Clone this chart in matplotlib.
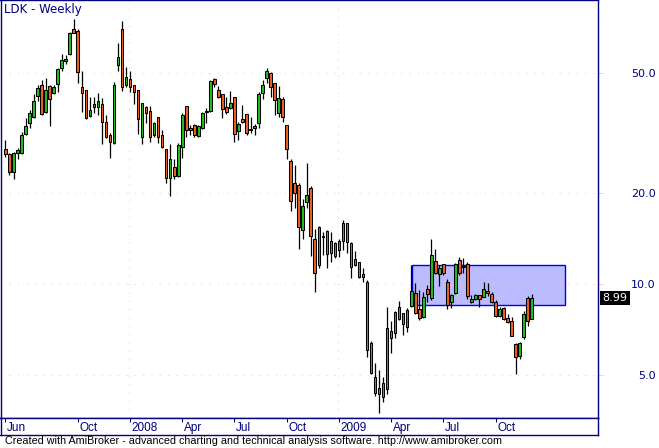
import matplotlib
matplotlib.use('Agg')
import matplotlib.pyplot as plt
import matplotlib.transforms as mtransforms
from matplotlib.patches import Rectangle
from matplotlib.ticker import NullLocator
import pandas as pd

# LDK weekly candles (weeks ending Friday)
opens = [28.0, 27.0, 23.5, 27.2, 27.2, 31.4, 34.2, 35.7, 42.0, 45.6, 37.1, 45.3,
         42.9, 46.0, 51.9, 54.8, 57.8, 70.4, 69.3, 44.9, 43.9, 36.0, 38.6, 38.6,
         39.5, 34.4, 31.2, 29.3, 53.2, 70.4, 45.6, 47.8, 45.6, 43.9, 30.7, 38.6,
         37.4, 31.2, 35.7, 31.2, 28.0, 22.5, 24.4, 22.8, 28.5, 38.9, 32.4, 33.6,
         31.0, 32.9, 37.1, 37.4, 47.8, 44.2, 42.6, 38.6, 38.3, 41.7, 32.2, 35.2,
         36.6, 32.6, 32.9, 34.2, 42.9, 48.1, 50.3, 46.3, 36.9, 41.0, 33.6, 25.7,
         21.6, 21.3, 15.1, 18.7, 20.8, 14.1, 11.55, 14.5, 15.0, 12.7, 13.7, 13.0,
         13.9, 15.9, 13.7, 11.55, 11.8, 10.8, 10.2, 6.39, 4.92, 4.33, 4.70, 4.50,
         6.63, 6.88, 7.66, 8.02, 7.21, 8.46, 9.34, 8.27, 7.78, 9.62, 8.99, 11.9,
         10.8, 11.65, 10.15, 8.72, 9.34, 12.0, 11.4, 11.7, 8.72, 8.92, 9.20, 9.06,
         9.48, 9.27, 8.72, 7.84, 8.33, 7.72, 7.54, 6.34, 5.78, 6.68, 8.99, 7.66]
highs = [30.0, 27.2, 27.4, 28.2, 31.9, 35.5, 37.7, 42.6, 45.6, 47.4, 48.1, 45.6,
         45.6, 51.9, 57.8, 57.4, 68.8, 76.0, 70.4, 51.1, 44.2, 41.7, 41.7, 42.9,
         41.3, 36.3, 31.6, 46.7, 62.9, 74.8, 52.3, 51.1, 45.8, 44.0, 40.0, 38.9,
         38.9, 34.6, 35.8, 32.4, 28.1, 29.1, 26.1, 29.3, 36.9, 39.0, 33.6, 33.9,
         33.6, 37.1, 38.3, 47.4, 48.1, 45.3, 42.7, 41.7, 43.6, 41.8, 34.6, 39.2,
         36.7, 35.7, 33.9, 43.3, 47.4, 51.9, 50.5, 46.4, 45.3, 41.7, 33.7, 26.1,
         24.8, 21.6, 19.1, 25.2, 21.2, 15.2, 15.6, 14.9, 15.1, 14.9, 13.75, 14.1,
         16.3, 16.0, 13.8, 12.9, 11.85, 11.3, 10.3, 6.48, 5.48, 5.19, 4.92, 8.39,
         7.54, 8.14, 8.78, 8.05, 8.33, 11.55, 10.1, 9.55, 9.41, 9.92, 14.1, 13.1,
         11.55, 11.7, 10.4, 9.27, 11.75, 12.3, 12.2, 11.8, 9.20, 9.27, 9.22, 10.15,
         10.1, 9.41, 8.85, 8.39, 8.39, 7.96, 7.78, 6.39, 6.44, 8.14, 9.13, 9.27]
lows = [26.5, 23.0, 22.3, 26.1, 27.1, 31.2, 32.9, 35.6, 40.4, 36.3, 36.9, 33.4,
        42.6, 43.3, 51.1, 53.9, 57.4, 67.8, 46.3, 37.1, 35.4, 35.7, 36.9, 36.3,
        29.1, 30.5, 26.3, 29.2, 51.1, 43.6, 44.9, 43.3, 39.5, 31.4, 29.1, 34.2,
        29.6, 30.7, 29.3, 28.2, 21.6, 19.6, 22.3, 22.6, 26.3, 30.7, 31.2, 30.7,
        30.7, 32.6, 34.2, 37.1, 44.9, 41.3, 35.5, 36.6, 38.0, 29.6, 30.0, 34.2,
        31.2, 31.6, 31.2, 32.9, 41.0, 46.3, 41.7, 36.3, 35.7, 34.6, 26.1, 17.5,
        17.9, 13.1, 14.1, 17.9, 12.4, 9.4, 11.3, 12.5, 11.3, 11.8, 12.2, 12.3,
        13.0, 12.7, 10.45, 11.45, 10.5, 10.2, 5.73, 5.04, 4.26, 3.74, 4.07, 4.33,
        5.92, 6.63, 7.60, 6.78, 6.93, 8.39, 7.96, 7.60, 7.75, 8.72, 8.85, 10.8,
        9.84, 10.7, 8.27, 8.33, 9.27, 10.7, 10.9, 8.92, 8.65, 8.85, 8.39, 9.04,
        9.13, 8.65, 7.78, 7.80, 7.60, 7.46, 6.71, 5.04, 5.65, 6.58, 7.27, 7.64]
closes = [27.0, 23.5, 27.2, 27.8, 31.2, 33.4, 36.9, 40.4, 44.6, 36.6, 43.9, 41.0,
          44.9, 51.5, 55.2, 55.6, 68.3, 68.3, 50.7, 42.9, 35.5, 37.7, 39.5, 40.4,
          34.6, 30.7, 29.6, 45.6, 56.5, 44.9, 48.5, 44.9, 43.3, 35.2, 39.8, 36.9,
          30.7, 34.2, 30.7, 28.5, 22.5, 26.1, 22.8, 28.9, 36.3, 32.4, 32.9, 31.2,
          33.4, 36.9, 37.4, 47.0, 46.0, 41.7, 38.0, 37.1, 39.8, 31.4, 33.9, 34.6,
          31.6, 32.4, 33.4, 42.6, 45.6, 51.1, 44.9, 40.7, 41.3, 35.7, 28.0, 18.9,
          20.0, 15.5, 18.2, 19.7, 14.5, 10.9, 15.5, 14.3, 12.6, 13.9, 12.4, 13.9,
          15.9, 13.8, 11.4, 12.1, 10.55, 10.55, 6.05, 5.08, 4.36, 4.53, 4.23, 7.15,
          6.99, 8.08, 8.39, 7.38, 8.20, 9.48, 8.02, 7.72, 9.06, 9.27, 12.5, 10.9,
          11.3, 10.9, 8.52, 9.20, 11.7, 10.9, 11.5, 9.13, 8.92, 9.20, 8.92, 9.62,
          9.34, 8.72, 7.84, 8.27, 7.66, 7.49, 6.73, 5.73, 6.39, 7.96, 7.54, 8.99]

price_levels = [5.0, 10.0, 20.0, 50.0]
# trading range box drawn on the chart
box_low, box_high = 8.52, 11.56
box_weeks = (101.2, 139.2)

weeks = pd.date_range('2007-06-01', periods=len(closes), freq='W-FRI')

BLUE = '#000080'
UP = '#20c020'
DOWN = '#f06020'

W, H = 659, 448
fig = plt.figure(figsize=(W / 100, H / 100), dpi=100)
ax = fig.add_axes([0.5 / W, (H - 418) / H, 597.5 / W, 417.5 / H])
ax2 = fig.add_axes([0.5 / W, (H - 435) / H, 597.5 / W, 17 / H])

x = list(range(len(closes)))
ax.set_yscale('log')
ax.set_ylim(3.6, 87.2)
ax.set_xlim(-1.24, 147.5)

# grid
for lvl in price_levels:
    ax.axhline(lvl, color='#ffc8d0', lw=0.75, ls=(0, (1, 7)), zorder=1)
year_idx = [i for i in x if i > 0 and weeks[i].year != weeks[i - 1].year]
for i in year_idx:
    ax.axvline(i - 0.25, color='#d8d8d8', lw=0.75, ls=(0, (1, 7)), zorder=1)

ax.add_patch(Rectangle((box_weeks[0], box_low), box_weeks[1] - box_weeks[0], box_high - box_low,
                       facecolor='#bbbbff', edgecolor='#0000ee', lw=1.0, zorder=0.5))

# candles
ax.vlines(x, lows, highs, colors='black', lw=0.9, zorder=2)
bottoms = [min(o, c) for o, c in zip(opens, closes)]
heights = [abs(c - o) for o, c in zip(opens, closes)]
colors = [UP if c >= o else DOWN for o, c in zip(opens, closes)]
ax.bar(x, heights, bottom=bottoms, width=0.65, color=colors, edgecolor='black', lw=0.75, zorder=3)

ax.set_xticks([])
ax.yaxis.set_minor_locator(NullLocator())
ax.set_yticks(price_levels)
ax.set_yticklabels([f'{v:.1f}' for v in price_levels])
ax.yaxis.tick_right()
ax.tick_params(axis='y', length=3.6, width=0.75, color='#ffc8c8', pad=38,
               labelsize=8, labelcolor=BLUE)
for t in ax.get_yticklabels():
    t.set_horizontalalignment('right')

for a in (ax, ax2):
    for s in a.spines.values():
        s.set_color(BLUE)
        s.set_linewidth(1.0)

# last price tag
trans = mtransforms.blended_transform_factory(ax.transAxes, ax.transData)
ax.text(1.0075, closes[-1], f'{closes[-1]:.2f}', transform=trans, ha='left', va='center',
        color='white', fontsize=8, clip_on=False,
        bbox=dict(boxstyle='square,pad=0.2', facecolor='black', edgecolor='none'))

ax.text(4 / 597.5, 1 - 3 / 417.5, 'LDK - Weekly', transform=ax.transAxes, ha='left', va='top',
        color=BLUE, fontsize=8.5)

# date strip: quarter starts, first bar labelled too
tick_idx, tick_lbl = [], []
for i, d in enumerate(weeks):
    if i == 0 or (d.month != weeks[i - 1].month and d.month in (1, 4, 7, 10) and i - tick_idx[-1] > 8):
        tick_idx.append(i)
        tick_lbl.append(str(d.year) if d.month == 1 else d.strftime('%b'))
ax2.set_xlim(ax.get_xlim())
ax2.set_ylim(0, 1)
ax2.set_yticks([])
ax2.set_xticks(tick_idx)
ax2.tick_params(axis='x', top=True, bottom=False, direction='in', length=3, width=0.75,
                color=BLUE, labeltop=False, labelbottom=False)
for i, lbl in zip(tick_idx, tick_lbl):
    ax2.text(i + 0.45, 0.42, lbl, ha='left', va='center', color=BLUE, fontsize=8.5,
             family='Liberation Sans')

fig.text(5 / W, (H - 441) / H, 'Created with AmiBroker - advanced charting and technical analysis software. http://www.amibroker.com',
         ha='left', va='center', color='black', fontsize=7.75, family='Liberation Sans')

fig.savefig('out.png', dpi=100)
